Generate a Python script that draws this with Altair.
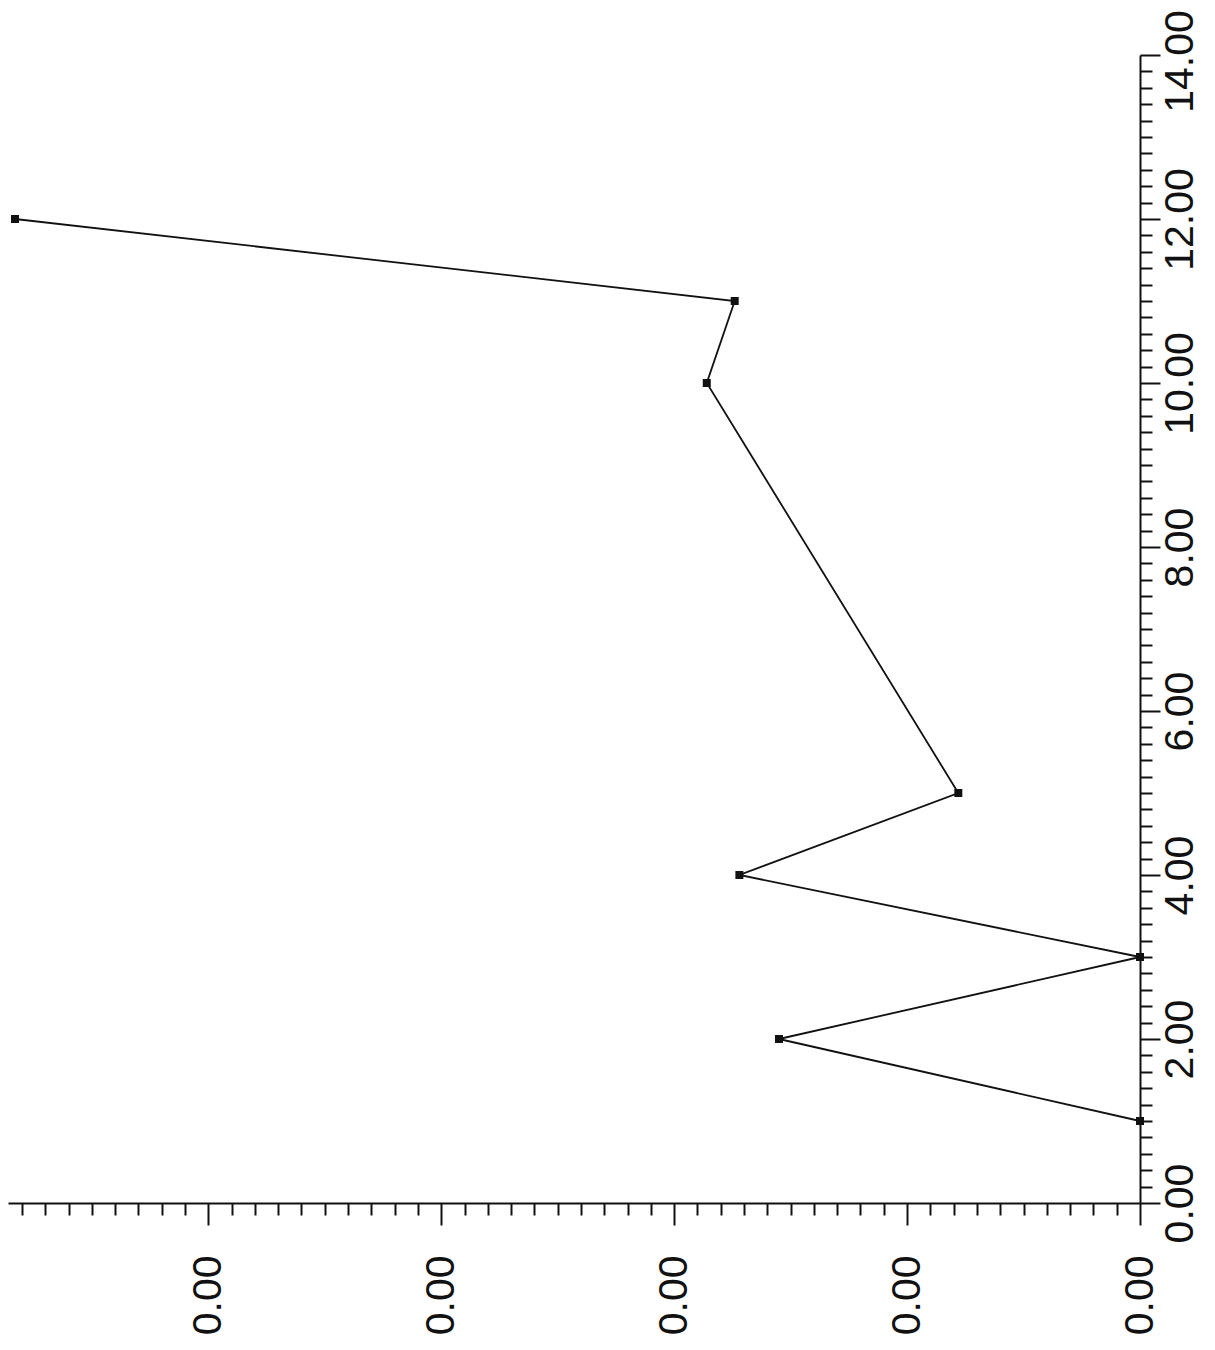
import altair as alt
import pandas as pd

# data (x along the vertical axis, value along the horizontal axis; chart is rotated 90° CCW)
x_vals = [1, 2, 3, 4, 5, 10, 11, 12]
y_vals = [0.0, 0.00155, 0.0, 0.00172, 0.00078, 0.00186, 0.00174, 0.00483]

# axis ticks
x_ticks = [round(i * 0.2, 1) for i in range(0, 71)]          # 0.00 .. 14.00, labelled every 2
y_ticks = [round(i * 0.0001, 4) for i in range(0, 49)]       # labelled every 0.001 -> "0.00"

df = pd.DataFrame({"xv": x_vals, "yv": y_vals})

FONT = "Liberation Sans"

y_axis = alt.Axis(
    orient="right", values=x_ticks, title=None, grid=False,
    labelExpr="abs(datum.value/2 - round(datum.value/2)) < 0.001 ? format(datum.value, '.2f') : ''",
    tickSize={"condition": {"test": "abs(datum.value/2 - round(datum.value/2)) < 0.001", "value": 20}, "value": 12},
    labelOffset={"condition": {"test": "datum.value > 13.9", "value": 6}, "value": 0},
    labelAngle=270, labelAlign="center", labelBaseline="top", labelPadding=0,
    labelFont=FONT, labelFontSize=41, labelColor="#111", labelOverlap=False, labelFlush=False,
    domainColor="#111", domainWidth=2, tickColor="#111", tickWidth=2,
)
x_axis = alt.Axis(
    orient="bottom", values=y_ticks, title=None, grid=False,
    labelExpr="abs(datum.value/0.001 - round(datum.value/0.001)) < 0.001 ? format(datum.value, '.2f') : ''",
    tickSize={"condition": {"test": "abs(datum.value/0.001 - round(datum.value/0.001)) < 0.001", "value": 22}, "value": 12},
    labelAngle=270, labelAlign="right", labelBaseline="middle", labelPadding=30,
    labelFont=FONT, labelFontSize=41, labelColor="#111", labelOverlap=False, labelFlush=False,
    domainColor="#111", domainWidth=2, tickColor="#111", tickWidth=2,
)

x_enc = alt.X("yv:Q", scale=alt.Scale(domain=[0, 0.00486], reverse=True, nice=False, zero=False), axis=x_axis)
y_enc = alt.Y("xv:Q", scale=alt.Scale(domain=[0, 14], nice=False, zero=False), axis=y_axis)

line = alt.Chart(df).mark_line(color="#111", strokeWidth=1.8).encode(
    x=x_enc, y=y_enc, order=alt.Order("xv:Q")
)
pts = alt.Chart(df).mark_point(shape="square", filled=True, color="#111", size=64, opacity=1).encode(
    x=x_enc, y=y_enc
)

chart = (line + pts).properties(
    width=1132, height=1148,
    autosize=alt.AutoSizeParams(type="none"),
    padding={"left": 0, "top": 47, "right": 67, "bottom": 140},
).configure_view(stroke=None)

chart.save("out.html", embed_options={"renderer": "svg", "actions": False})
